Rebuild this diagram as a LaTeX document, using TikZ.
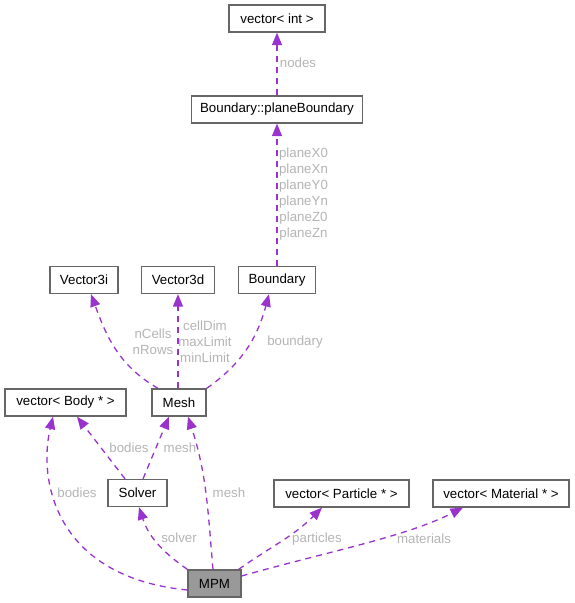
\documentclass[tikz,border=0pt]{standalone}
\usepackage{fontspec}
\setmainfont{Liberation Sans}
\usetikzlibrary{arrows.meta}

\definecolor{edgepurple}{HTML}{9A32CD}
\definecolor{boxgray}{HTML}{666666}
\definecolor{lblgray}{HTML}{B4B4B4}
\definecolor{mpmfill}{HTML}{999999}

\tikzset{
    classbox/.style={draw=boxgray, line width=1.3pt, fill=white, minimum height=27pt,
        inner sep=0pt, font=\fontsize{13.3}{16}\selectfont},
    edge/.style={draw=edgepurple, line width=1.3pt, dash pattern=on 6pt off 5pt,
        -{Triangle[length=12.5pt,width=10pt]}},
    lbl/.style={text=lblgray, inner sep=0pt, align=center, font=\fontsize{13.3}{16}\selectfont}
}

\begin{document}
\begin{tikzpicture}[x=1pt, y=1pt]
        \useasboundingbox (0,0) rectangle (575,603);

        \foreach \name/\x/\y/\w/\txt in {vint/277/584.5/96/{vector< int >},
                pb/277/493.5/171/{Boundary::planeBoundary},
                vthreei/84/323/68/{Vector3i}, vthreed/178/323/73/{Vector3d},
                bd/277/323/77/{Boundary}, vbody/65.5/200.5/121/{vector< Body * >},
                mesh/179/200.5/54/{Mesh}, solver/137.5/110/59/{Solver},
                vpart/341.5/109.5/135/{vector< Particle * >},
                vmat/501/109.5/136/{vector< Material * >}} {
            \node[classbox, minimum width=\w pt] (\name) at (\x,\y) {\txt};
        }
        \node[classbox, fill=mpmfill, minimum width=53pt] (mpm) at (214.5,19.5) {MPM};

        \draw[edge] (pb.north) -- (vint.south);
        \draw[edge] (bd.north) -- (pb.south);
        \draw[edge] ([xshift=-21pt]mesh.north) to[out=150, in=-70] ([xshift=7pt]vthreei.south);
        \draw[edge] ([xshift=-1pt]mesh.north) -- (vthreed.south);
        \draw[edge] (mesh.north east) to[out=35, in=-105] ([xshift=-8pt]bd.south);
        \draw[edge] ([xshift=-12.5pt]solver.north) -- ([xshift=11.5pt]vbody.south);
        \draw[edge] ([xshift=5.5pt]solver.north) -- ([xshift=-10pt]mesh.south);
        \draw[edge] ([yshift=-6.5pt]mpm.west) .. controls (55,26) and (38,123) .. ([xshift=-12.5pt]vbody.south);
        \draw[edge] (mpm.north west) to[out=145, in=-72] ([xshift=1.5pt]solver.south);
        \draw[edge] ([xshift=-1.5pt]mpm.north) to[out=95, in=-72] ([xshift=9pt]mesh.south);
        \draw[edge] ([xshift=-3pt]mpm.north east) to[out=35, in=-135] ([xshift=-19.5pt]vpart.south);
        \draw[edge] ([yshift=7.5pt]mpm.east) .. controls (330,52) and (405,66) .. ([xshift=-38pt]vmat.south);

        \node[lbl] (lnodes) at (298,540) {nodes};
        \node[lbl] (lplanes) at (303.5,409) {planeX0\\planeXn\\planeY0\\planeYn\\planeZ0\\planeZn};
        \node[lbl] (lcells) at (153,261.5) {nCells\\nRows};
        \node[lbl] (llimits) at (205,261.5) {cellDim\\maxLimit\\minLimit};
        \node[lbl] (lboundary) at (295,261) {boundary};
        \node[lbl] (lbodiesa) at (129,155) {bodies};
        \node[lbl] (lmesha) at (180,155) {mesh};
        \node[lbl] (lbodiesb) at (77,110) {bodies};
        \node[lbl] (lmeshb) at (229,110) {mesh};
        \node[lbl] (lsolver) at (179,65) {solver};
        \node[lbl] (lparticles) at (317,64) {particles};
        \node[lbl] (lmaterials) at (424,64) {materials};
\end{tikzpicture}
\end{document}
